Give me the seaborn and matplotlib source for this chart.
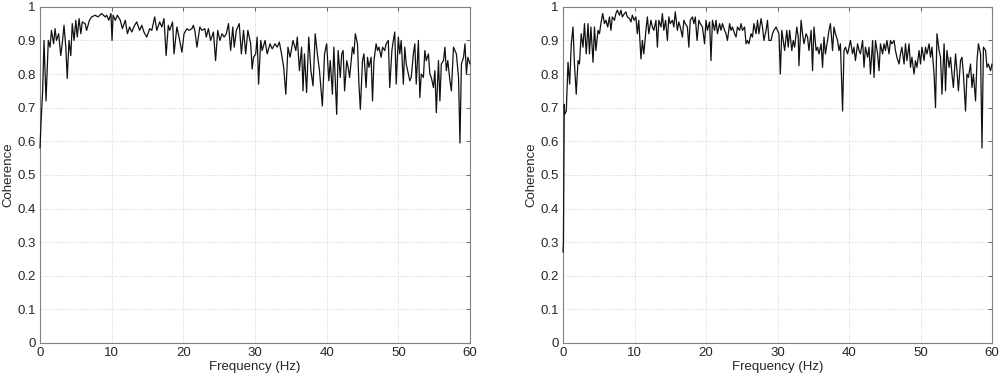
import matplotlib
matplotlib.use("Agg")
import matplotlib.pyplot as plt
import seaborn as sns
import pandas as pd

# values (frequency in Hz, coherence)
freq_left = [0, 0.15, 0.37, 0.56, 0.84, 1.16, 1.4, 1.6, 1.9, 2.1, 2.3, 2.6, 2.9, 3.1, 3.35, 3.6, 3.8,
             4.05, 4.3, 4.5, 4.75, 5.0, 5.2, 5.45, 5.7, 5.9, 6.3, 6.5, 6.9, 7.2, 7.7, 8.1, 8.6,
             9.1, 9.3, 9.6, 9.9, 10.05, 10.2, 10.5, 10.8, 11.2, 11.5, 11.9, 12.2, 12.5, 12.8,
             13.2, 13.5, 13.9, 14.2, 14.5, 14.9, 15.3, 15.6, 16.0, 16.3, 16.7, 17.0, 17.3,
             17.6, 17.9, 18.1, 18.5, 18.7, 19.1, 19.4, 19.8, 20.1, 20.5, 20.8, 21.2, 21.4,
             21.6, 21.9, 22.3, 22.6, 23.0, 23.2, 23.5, 23.8, 24.2, 24.5, 24.8, 25.1, 25.4,
             25.7, 26.0, 26.3, 26.6, 26.9, 27.1, 27.4, 27.8, 28.1, 28.4, 28.7, 29.0, 29.4,
             29.6, 29.8, 30.1, 30.3, 30.5, 30.8, 31.0, 31.4, 31.7, 32.1, 32.4, 32.8, 33.1,
             33.4, 33.7, 34.0, 34.3, 34.6, 34.9, 35.3, 35.7, 35.9, 36.2, 36.5, 36.7, 36.9,
             37.2, 37.5, 37.8, 38.1, 38.4, 38.7, 39.0, 39.4, 39.7, 40.0, 40.3, 40.5, 40.8,
             41.0, 41.4, 41.6, 41.9, 42.1, 42.3, 42.5, 42.8, 43.0, 43.2, 43.6, 43.8, 44.0,
             44.3, 44.5, 44.7, 45.0, 45.2, 45.5, 45.7, 45.9, 46.2, 46.4, 46.6, 46.9, 47.1,
             47.3, 47.6, 47.8, 48.1, 48.3, 48.6, 48.8, 49.1, 49.3, 49.5, 49.7, 50.0, 50.2,
             50.4, 50.7, 50.9, 51.1, 51.4, 51.6, 51.8, 52.1, 52.3, 52.5, 52.8, 53.0, 53.2,
             53.5, 53.7, 53.9, 54.2, 54.4, 54.6, 54.9, 55.1, 55.3, 55.6, 55.8, 56.0, 56.3,
             56.5, 56.7, 56.9, 57.2, 57.4, 57.7, 57.9, 58.1, 58.4, 58.6, 58.8, 59.1, 59.3,
             59.5, 59.7, 60.0]
coh_left = [0.58, 0.66, 0.75, 0.9, 0.72, 0.9, 0.88, 0.93, 0.89, 0.935, 0.9, 0.92, 0.855, 0.89, 0.945,
            0.88, 0.787, 0.9, 0.855, 0.95, 0.9, 0.96, 0.91, 0.965, 0.92, 0.955, 0.95, 0.93,
            0.96, 0.97, 0.975, 0.97, 0.98, 0.97, 0.975, 0.96, 0.98, 0.9, 0.975, 0.96, 0.975,
            0.96, 0.935, 0.96, 0.92, 0.94, 0.925, 0.945, 0.955, 0.93, 0.945, 0.925, 0.91,
            0.935, 0.93, 0.97, 0.93, 0.955, 0.94, 0.965, 0.855, 0.945, 0.93, 0.955, 0.86,
            0.94, 0.91, 0.865, 0.92, 0.935, 0.93, 0.935, 0.945, 0.93, 0.88, 0.94, 0.93,
            0.935, 0.91, 0.935, 0.9, 0.925, 0.84, 0.93, 0.9, 0.92, 0.91, 0.92, 0.95, 0.87,
            0.94, 0.88, 0.93, 0.95, 0.86, 0.93, 0.86, 0.93, 0.89, 0.815, 0.85, 0.86, 0.91,
            0.77, 0.9, 0.87, 0.9, 0.86, 0.89, 0.875, 0.89, 0.88, 0.895, 0.86, 0.82, 0.74,
            0.88, 0.85, 0.9, 0.87, 0.91, 0.81, 0.88, 0.75, 0.86, 0.745, 0.91, 0.81, 0.765,
            0.92, 0.86, 0.81, 0.705, 0.86, 0.89, 0.78, 0.84, 0.74, 0.88, 0.68, 0.87, 0.79,
            0.86, 0.87, 0.75, 0.84, 0.82, 0.79, 0.88, 0.86, 0.92, 0.89, 0.77, 0.695, 0.84,
            0.86, 0.76, 0.85, 0.82, 0.85, 0.72, 0.84, 0.89, 0.87, 0.88, 0.85, 0.88, 0.87,
            0.89, 0.9, 0.76, 0.87, 0.9, 0.925, 0.77, 0.91, 0.86, 0.9, 0.77, 0.88, 0.83, 0.8,
            0.78, 0.79, 0.86, 0.89, 0.77, 0.9, 0.73, 0.8, 0.79, 0.87, 0.84, 0.86, 0.8, 0.79,
            0.76, 0.81, 0.685, 0.84, 0.72, 0.83, 0.84, 0.88, 0.81, 0.84, 0.78, 0.75, 0.88,
            0.87, 0.86, 0.79, 0.595, 0.83, 0.85, 0.89, 0.8, 0.85, 0.83]

freq_right = [0, 0.06, 0.12, 0.18, 0.23, 0.46, 0.7, 0.93, 1.16, 1.4, 1.6, 1.85, 2.1, 2.3, 2.55, 2.8, 3.0,
              3.25, 3.5, 3.7, 3.9, 4.2, 4.4, 4.6, 4.9, 5.1, 5.3, 5.55, 5.8, 6.0, 6.25, 6.5,
              6.7, 6.9, 7.2, 7.4, 7.6, 7.9, 8.1, 8.3, 8.6, 8.8, 9.0, 9.3, 9.5, 9.7, 9.95,
              10.2, 10.4, 10.6, 10.9, 11.1, 11.3, 11.6, 11.8, 12.0, 12.3, 12.5, 12.7, 13.0,
              13.2, 13.4, 13.7, 13.9, 14.1, 14.35, 14.6, 14.8, 15.0, 15.3, 15.5, 15.7, 16.0,
              16.2, 16.4, 16.7, 16.9, 17.1, 17.4, 17.6, 17.8, 18.1, 18.3, 18.5, 18.75, 19.0,
              19.2, 19.5, 19.8, 20.0, 20.2, 20.5, 20.7, 20.9, 21.2, 21.4, 21.6, 21.9, 22.1,
              22.3, 22.6, 22.8, 23.0, 23.3, 23.5, 23.7, 24.0, 24.2, 24.4, 24.7, 24.9, 25.1,
              25.4, 25.6, 25.8, 26.0, 26.3, 26.5, 26.7, 27.0, 27.2, 27.4, 27.7, 27.9, 28.1,
              28.4, 28.6, 28.8, 29.1, 29.3, 29.5, 29.8, 30.0, 30.2, 30.4, 30.6, 30.8, 31.0,
              31.3, 31.5, 31.7, 32.0, 32.2, 32.4, 32.7, 32.9, 33.0, 33.3, 33.5, 33.7, 34.0,
              34.2, 34.4, 34.7, 34.9, 35.1, 35.4, 35.6, 35.8, 36.1, 36.3, 36.5, 36.7, 37.0,
              37.2, 37.4, 37.7, 37.9, 38.1, 38.4, 38.6, 38.8, 39.1, 39.3, 39.5, 39.8, 40.0,
              40.2, 40.5, 40.7, 40.9, 41.2, 41.4, 41.6, 41.9, 42.1, 42.3, 42.6, 42.8, 43.0,
              43.3, 43.5, 43.7, 44.0, 44.2, 44.4, 44.7, 44.9, 45.1, 45.3, 45.6, 45.8, 46.0,
              46.3, 46.5, 46.7, 47.0, 47.2, 47.4, 47.7, 47.9, 48.1, 48.4, 48.6, 48.8, 49.1,
              49.3, 49.5, 49.8, 50.0, 50.2, 50.5, 50.7, 50.9, 51.2, 51.4, 51.6, 51.9, 52.1,
              52.3, 52.6, 52.8, 53.0, 53.3, 53.5, 53.7, 54.0, 54.2, 54.4, 54.6, 54.9, 55.1,
              55.3, 55.6, 55.8, 56.0, 56.3, 56.5, 56.7, 57.0, 57.2, 57.4, 57.7, 57.9, 58.1,
              58.4, 58.6, 58.8, 59.1, 59.3, 59.5, 59.8, 60.0]
coh_right = [0.27, 0.3, 0.5, 0.71, 0.68, 0.69, 0.835, 0.77, 0.89, 0.94, 0.83, 0.74, 0.84, 0.83, 0.92, 0.88,
             0.95, 0.86, 0.95, 0.86, 0.94, 0.835, 0.94, 0.87, 0.93, 0.92, 0.95, 0.98, 0.95,
             0.96, 0.94, 0.97, 0.93, 0.97, 0.96, 0.98, 0.99, 0.975, 0.99, 0.97, 0.98, 0.985,
             0.97, 0.965, 0.955, 0.975, 0.96, 0.97, 0.92, 0.96, 0.845, 0.9, 0.86, 0.93, 0.97,
             0.92, 0.96, 0.94, 0.93, 0.96, 0.88, 0.96, 0.94, 0.98, 0.93, 0.96, 0.9, 0.97,
             0.95, 0.96, 0.94, 0.985, 0.93, 0.955, 0.94, 0.91, 0.96, 0.95, 0.94, 0.88, 0.96,
             0.97, 0.95, 0.97, 0.9, 0.96, 0.95, 0.94, 0.89, 0.96, 0.93, 0.955, 0.84, 0.96,
             0.93, 0.96, 0.92, 0.95, 0.93, 0.95, 0.93, 0.92, 0.9, 0.95, 0.93, 0.94, 0.92,
             0.91, 0.94, 0.93, 0.95, 0.93, 0.94, 0.89, 0.9, 0.89, 0.92, 0.91, 0.95, 0.92,
             0.96, 0.92, 0.965, 0.94, 0.9, 0.93, 0.96, 0.9, 0.9, 0.92, 0.93, 0.94, 0.93,
             0.92, 0.8, 0.93, 0.9, 0.87, 0.93, 0.88, 0.93, 0.87, 0.9, 0.88, 0.94, 0.91,
             0.825, 0.96, 0.92, 0.89, 0.92, 0.91, 0.87, 0.93, 0.81, 0.94, 0.87, 0.88, 0.86,
             0.89, 0.82, 0.91, 0.86, 0.9, 0.93, 0.95, 0.87, 0.94, 0.92, 0.9, 0.87, 0.89,
             0.69, 0.87, 0.88, 0.86, 0.88, 0.9, 0.86, 0.88, 0.84, 0.89, 0.87, 0.86, 0.9,
             0.82, 0.88, 0.85, 0.88, 0.8, 0.9, 0.79, 0.9, 0.86, 0.81, 0.89, 0.86, 0.89,
             0.87, 0.9, 0.86, 0.9, 0.89, 0.9, 0.87, 0.85, 0.83, 0.86, 0.88, 0.83, 0.89,
             0.84, 0.89, 0.82, 0.85, 0.8, 0.84, 0.82, 0.87, 0.83, 0.88, 0.84, 0.88, 0.86,
             0.89, 0.85, 0.88, 0.8, 0.7, 0.92, 0.87, 0.85, 0.74, 0.89, 0.75, 0.87, 0.82,
             0.85, 0.8, 0.76, 0.86, 0.81, 0.75, 0.84, 0.85, 0.8, 0.69, 0.8, 0.79, 0.83,
             0.76, 0.8, 0.72, 0.84, 0.89, 0.86, 0.58, 0.88, 0.87, 0.82, 0.83, 0.81, 0.83]

x_ticks = list(range(0, 61, 10))
y_ticks = [i / 10 for i in range(11)]
y_labels = ["0"] + ["%.1f" % v for v in y_ticks[1:-1]] + ["1"]

sns.set_style("white")
plt.rcParams['font.family'] = ['Liberation Sans', 'DejaVu Sans']
plt.rcParams['font.size'] = 9.5

fig = plt.figure(figsize=(10, 3.79), dpi=100)
ax1 = fig.add_axes([0.04, 0.095, 0.43, 0.887])
ax2 = fig.add_axes([0.563, 0.095, 0.429, 0.887])

panels = [(ax1, freq_left, coh_left), (ax2, freq_right, coh_right)]
for ax, f, c in panels:
    df = pd.DataFrame({"Frequency": f, "Coherence": c})
    sns.lineplot(data=df, x="Frequency", y="Coherence", ax=ax, color="#111111",
                 linewidth=0.9, estimator=None, sort=False, clip_on=False, zorder=3)
    ax.set_xlim(0, 60)
    ax.set_ylim(0, 1)
    ax.set_xticks(x_ticks)
    ax.set_yticks(y_ticks)
    ax.set_yticklabels(y_labels)
    ax.grid(True, color="#c8c8c8", linestyle=":", linewidth=0.6)
    ax.tick_params(direction="in", length=3, top=True, right=True, color="#707070",
                   labelsize=9.5, pad=3)
    for sp in ax.spines.values():
        sp.set_color("#808080")
        sp.set_linewidth(0.8)
        sp.set_zorder(2)
    ax.set_xlabel("Frequency (Hz)", fontsize=9.5, labelpad=1)
    ax.set_ylabel("Coherence", fontsize=9.5, labelpad=2)

fig.savefig("out.png", dpi=100)
